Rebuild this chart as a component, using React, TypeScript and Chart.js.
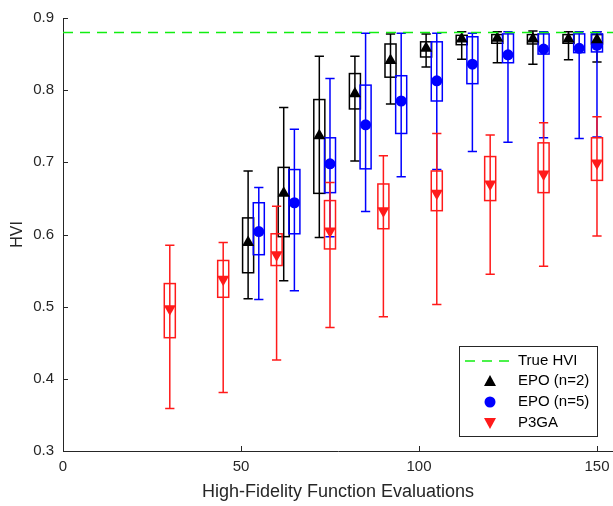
import React, { useEffect, useRef } from "react";
import { Chart, registerables } from "chart.js";
Chart.register(...registerables);

const TRUE_HVI = 0.88;
const X_MIN = 0;
const X_MAX = 154.5;
const Y_MIN = 0.3;
const Y_MAX = 0.9;
const X_TICKS = [0, 50, 100, 150];
const Y_TICKS = [0.3, 0.4, 0.5, 0.6, 0.7, 0.8, 0.9];

// EPO (n=2)
const epo2X = [52, 62, 72, 82, 92, 102, 112, 122, 132, 142, 150];
const epo2Hi = [0.688, 0.776, 0.847, 0.847, 0.878, 0.878, 0.881, 0.881, 0.882, 0.881, 0.881];
const epo2Q3 = [0.623, 0.693, 0.787, 0.823, 0.864, 0.867, 0.876, 0.877, 0.877, 0.877, 0.877];
const epo2Med = [0.589, 0.657, 0.737, 0.795, 0.841, 0.858, 0.871, 0.872, 0.871, 0.871, 0.870];
const epo2Q1 = [0.547, 0.597, 0.657, 0.774, 0.818, 0.846, 0.863, 0.865, 0.864, 0.865, 0.864];
const epo2Lo = [0.511, 0.536, 0.596, 0.702, 0.781, 0.832, 0.843, 0.838, 0.836, 0.842, 0.839];

// EPO (n=5)
const epo5X = [55, 65, 75, 85, 95, 105, 115, 125, 135, 145, 150];
const epo5Hi = [0.665, 0.746, 0.816, 0.879, 0.879, 0.879, 0.879, 0.881, 0.881, 0.881, 0.881];
const epo5Q3 = [0.644, 0.690, 0.734, 0.807, 0.820, 0.867, 0.874, 0.878, 0.878, 0.878, 0.878];
const epo5Med = [0.604, 0.644, 0.698, 0.752, 0.785, 0.813, 0.836, 0.849, 0.857, 0.858, 0.862];
const epo5Q1 = [0.572, 0.601, 0.658, 0.691, 0.740, 0.785, 0.809, 0.838, 0.850, 0.852, 0.853];
const epo5Lo = [0.510, 0.522, 0.597, 0.632, 0.680, 0.690, 0.715, 0.728, 0.734, 0.733, 0.735];

// P3GA
const p3gaX = [30, 45, 60, 75, 90, 105, 120, 135, 150];
const p3gaHi = [0.585, 0.589, 0.639, 0.672, 0.709, 0.740, 0.738, 0.755, 0.763];
const p3gaQ3 = [0.532, 0.564, 0.601, 0.647, 0.670, 0.688, 0.708, 0.727, 0.734];
const p3gaMed = [0.497, 0.538, 0.572, 0.605, 0.633, 0.657, 0.670, 0.684, 0.699];
const p3gaQ1 = [0.457, 0.513, 0.557, 0.580, 0.608, 0.633, 0.647, 0.658, 0.675];
const p3gaLo = [0.359, 0.381, 0.426, 0.471, 0.486, 0.503, 0.545, 0.556, 0.598];

const BLACK = "#000000";
const BLUE = "#0000ff";
const RED = "#ff1a1a";
const GREEN = "#11ee11";
const AXIS = "#262626";
const FONT = "'Liberation Sans', Arial, sans-serif";

export default function App() {
  const ref = useRef<HTMLCanvasElement>(null);

  useEffect(() => {
    document.body.style.margin = "0";
    const canvas = ref.current;
    if (!canvas) return;

    const series = [
      { x: epo2X, hi: epo2Hi, q3: epo2Q3, q1: epo2Q1, lo: epo2Lo, color: BLACK },
      { x: epo5X, hi: epo5Hi, q3: epo5Q3, q1: epo5Q1, lo: epo5Lo, color: BLUE },
      { x: p3gaX, hi: p3gaHi, q3: p3gaQ3, q1: p3gaQ1, lo: p3gaLo, color: RED },
    ];
    const BOX_HALF = 1.55;
    const CAP_HALF = 1.3;

    const boxPlugin = {
      id: "boxes",
      beforeDatasetsDraw(chart: any) {
        const { ctx } = chart;
        const xs = chart.scales.x;
        const ys = chart.scales.y;
        ctx.save();
        ctx.lineWidth = 1.5;
        for (const s of series) {
          ctx.strokeStyle = s.color;
          for (let i = 0; i < s.x.length; i++) {
            const cx = xs.getPixelForValue(s.x[i]);
            const bl = xs.getPixelForValue(s.x[i] - BOX_HALF);
            const br = xs.getPixelForValue(s.x[i] + BOX_HALF);
            const cl = xs.getPixelForValue(s.x[i] - CAP_HALF);
            const cr = xs.getPixelForValue(s.x[i] + CAP_HALF);
            const yHi = ys.getPixelForValue(s.hi[i]);
            const yLo = ys.getPixelForValue(s.lo[i]);
            const yQ3 = ys.getPixelForValue(s.q3[i]);
            const yQ1 = ys.getPixelForValue(s.q1[i]);
            ctx.beginPath();
            ctx.moveTo(cx, yHi);
            ctx.lineTo(cx, yLo);
            ctx.moveTo(cl, yHi);
            ctx.lineTo(cr, yHi);
            ctx.moveTo(cl, yLo);
            ctx.lineTo(cr, yLo);
            ctx.stroke();
            ctx.strokeRect(bl, yQ3, br - bl, yQ1 - yQ3);
          }
        }
        ctx.restore();
      },
      afterDraw(chart: any) {
        const { ctx, chartArea } = chart;
        const xs = chart.scales.x;
        const ys = chart.scales.y;
        ctx.save();
        // inward ticks
        ctx.strokeStyle = AXIS;
        ctx.lineWidth = 1;
        ctx.beginPath();
        for (const v of X_TICKS) {
          if (v === X_MIN) continue;
          const px = Math.round(xs.getPixelForValue(v)) + 0.5;
          ctx.moveTo(px, chartArea.bottom);
          ctx.lineTo(px, chartArea.bottom - 5);
        }
        for (const v of Y_TICKS) {
          if (v === Y_MIN) continue;
          const py = Math.round(ys.getPixelForValue(v)) + 0.5;
          ctx.moveTo(chartArea.left, py);
          ctx.lineTo(chartArea.left + 5, py);
        }
        ctx.stroke();

        // legend
        const left = chartArea.right - 154;
        const top = chartArea.bottom - 105;
        const w = 138;
        const h = 90;
        ctx.fillStyle = "#ffffff";
        ctx.fillRect(left, top, w, h);
        ctx.strokeStyle = AXIS;
        ctx.lineWidth = 1;
        ctx.strokeRect(left + 0.5, top + 0.5, w, h);
        const rows = [top + 15, top + 35, top + 56, top + 77];
        const textX = left + 59;
        const mx = left + 31;
        ctx.font = `15px ${FONT}`;
        ctx.textBaseline = "middle";
        ctx.textAlign = "left";
        ctx.fillStyle = "#000000";
        ctx.fillText("True HVI", textX, rows[0]);
        ctx.fillText("EPO (n=2)", textX, rows[1]);
        ctx.fillText("EPO (n=5)", textX, rows[2]);
        ctx.fillText("P3GA", textX, rows[3]);
        ctx.strokeStyle = GREEN;
        ctx.lineWidth = 1.5;
        ctx.setLineDash([10, 7]);
        ctx.beginPath();
        ctx.moveTo(left + 6, rows[0]);
        ctx.lineTo(left + 56, rows[0]);
        ctx.stroke();
        ctx.setLineDash([]);
        // triangle up
        ctx.fillStyle = BLACK;
        ctx.beginPath();
        ctx.moveTo(mx, rows[1] - 6);
        ctx.lineTo(mx + 6, rows[1] + 5);
        ctx.lineTo(mx - 6, rows[1] + 5);
        ctx.closePath();
        ctx.fill();
        // circle
        ctx.fillStyle = BLUE;
        ctx.beginPath();
        ctx.arc(mx, rows[2], 5.5, 0, Math.PI * 2);
        ctx.fill();
        // triangle down
        ctx.fillStyle = RED;
        ctx.beginPath();
        ctx.moveTo(mx, rows[3] + 6);
        ctx.lineTo(mx + 6, rows[3] - 5);
        ctx.lineTo(mx - 6, rows[3] - 5);
        ctx.closePath();
        ctx.fill();
        ctx.restore();
      },
    };

    const pts = (xs: number[], ys: number[]) => xs.map((x, i) => ({ x, y: ys[i] }));

    const chart = new Chart(canvas, {
      type: "scatter",
      data: {
        datasets: [
          {
            type: "line",
            label: "True HVI",
            data: [
              { x: X_MIN, y: TRUE_HVI },
              { x: X_MAX, y: TRUE_HVI },
            ],
            borderColor: GREEN,
            borderWidth: 1.5,
            borderDash: [10, 7],
            pointRadius: 0,
            fill: false,
          } as any,
          {
            label: "EPO (n=2)",
            data: pts(epo2X, epo2Med),
            pointStyle: "triangle",
            pointRadius: 7,
            backgroundColor: BLACK,
            borderColor: BLACK,
            borderWidth: 0,
          },
          {
            label: "EPO (n=5)",
            data: pts(epo5X, epo5Med),
            pointStyle: "circle",
            pointRadius: 5.5,
            backgroundColor: BLUE,
            borderColor: BLUE,
            borderWidth: 0,
          },
          {
            label: "P3GA",
            data: pts(p3gaX, p3gaMed),
            pointStyle: "triangle",
            rotation: 180,
            pointRadius: 7,
            backgroundColor: RED,
            borderColor: RED,
            borderWidth: 0,
          } as any,
        ],
      },
      options: {
        responsive: false,
        animation: false,
        devicePixelRatio: 1,
        layout: { autoPadding: false, padding: { top: 17, right: 0, left: 0, bottom: 0 } },
        plugins: {
          legend: { display: false },
          tooltip: { enabled: false },
        },
        scales: {
          x: {
            type: "linear",
            min: X_MIN,
            max: X_MAX,
            afterBuildTicks: (scale: any) => {
              scale.ticks = X_TICKS.map((v) => ({ value: v }));
            },
            afterFit: (scale: any) => {
              scale.height = 55;
              scale.paddingLeft = 0;
              scale.paddingRight = 0;
            },
            grid: { display: false, drawTicks: false },
            border: { display: true, color: AXIS, width: 1 },
            ticks: {
              padding: 7,
              color: AXIS,
              font: { family: FONT, size: 15 },
              maxRotation: 0,
              autoSkip: false,
              callback: (v: any) => String(v),
            },
            title: {
              display: true,
              text: "High-Fidelity Function Evaluations",
              color: AXIS,
              font: { family: FONT, size: 18 },
              padding: { top: 0, bottom: 3 },
            },
          },
          y: {
            type: "linear",
            min: Y_MIN,
            max: Y_MAX,
            afterBuildTicks: (scale: any) => {
              scale.ticks = Y_TICKS.map((v) => ({ value: v }));
            },
            afterFit: (scale: any) => {
              scale.width = 63;
            },
            grid: { display: false, drawTicks: false },
            border: { display: true, color: AXIS, width: 1 },
            ticks: {
              padding: 9,
              color: AXIS,
              font: { family: FONT, size: 15 },
              autoSkip: false,
              callback: (v: any) => Number(v).toFixed(1),
            },
            title: {
              display: true,
              text: "HVI",
              color: AXIS,
              font: { family: FONT, size: 16 },
              padding: { top: 8, bottom: 0 },
            },
          },
        },
      },
      plugins: [boxPlugin],
    });

    return () => chart.destroy();
  }, []);

  return <canvas ref={ref} width={613} height={506} style={{ display: "block" }} />;
}
